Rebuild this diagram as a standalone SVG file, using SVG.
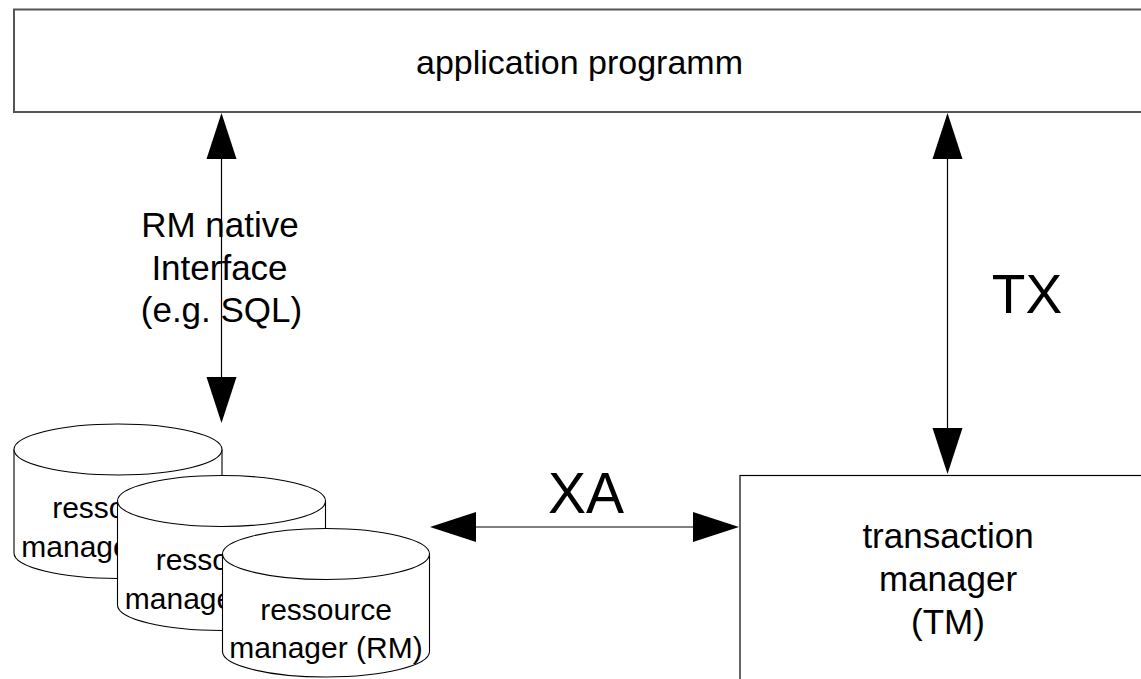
<svg xmlns="http://www.w3.org/2000/svg" width="1141" height="679" viewBox="0 0 1141 679">
  <style>
    .box { fill: #ffffff; stroke: #000000; stroke-width: 1.2; }
    .appbox { fill: #ffffff; stroke: #555555; stroke-width: 2; }
    .cyl { fill: #ffffff; stroke: #000000; stroke-width: 1.1; }
    .t { font-family: "Liberation Sans", Arial, sans-serif; fill: #000000; text-anchor: middle; }
    .conn { stroke: #000000; stroke-width: 1.2; fill: none; }
    .head { fill: #000000; stroke: none; }
  </style>
  <rect width="1141" height="679" fill="#ffffff"/>

  <g id="application-programm">
    <rect class="appbox" x="14" y="9.5" width="1140" height="102.5"/>
    <text class="t" x="579.5" y="73.5" font-size="34">application programm</text>
  </g>

  <g id="transaction-manager">
    <rect class="box" x="740" y="475.5" width="420" height="220"/>
    <text class="t" x="948" y="548" font-size="35">transaction</text>
    <text class="t" x="948" y="591" font-size="35">manager</text>
    <text class="t" x="948" y="634" font-size="35">(TM)</text>
  </g>

  <g id="rm1">
    <path class="cyl" d="M14,449.5 L14,553 A104,25.5 0 0 0 222,553 L222,449.5"/>
    <ellipse class="cyl" cx="118" cy="449.5" rx="104" ry="25.5"/>
    <text class="t" x="118" y="518" font-size="30">ressource</text>
    <text class="t" x="118" y="557" font-size="30">manager (RM)</text>
  </g>

  <g id="rm2">
    <path class="cyl" d="M117.5,501 L117.5,605 A104,25.5 0 0 0 325.5,605 L325.5,501"/>
    <ellipse class="cyl" cx="221.5" cy="501" rx="104" ry="25.5"/>
    <text class="t" x="221.5" y="570" font-size="30">ressource</text>
    <text class="t" x="221.5" y="608.5" font-size="30">manager (RM)</text>
  </g>

  <g id="rm3">
    <path class="cyl" d="M222.5,554 L222.5,651.5 A103.5,25.5 0 0 0 429.5,651.5 L429.5,554"/>
    <ellipse class="cyl" cx="326" cy="554" rx="103.5" ry="25.5"/>
    <text class="t" x="326" y="620" font-size="30">ressource</text>
    <text class="t" x="326" y="658" font-size="30">manager (RM)</text>
  </g>

  <g id="connectors">
    <!-- RM native interface -->
    <line class="conn" x1="221.5" y1="150" x2="221.5" y2="385"/>
    <polygon class="head" points="221.5,113 206.5,159 236.5,159"/>
    <polygon class="head" points="221.5,423 206.5,377 236.5,377"/>
    <!-- TX -->
    <line class="conn" x1="947.5" y1="150" x2="947.5" y2="435"/>
    <polygon class="head" points="947.5,113 932.5,159 962.5,159"/>
    <polygon class="head" points="947.5,474 932.5,428 962.5,428"/>
    <!-- XA -->
    <line class="conn" x1="470" y1="527" x2="700" y2="527"/>
    <polygon class="head" points="430,527 476,512 476,542"/>
    <polygon class="head" points="739,527 693,512 693,542"/>
  </g>

  <g id="labels">
    <text class="t" x="220" y="237" font-size="35">RM native</text>
    <text class="t" x="219.5" y="280" font-size="35">Interface</text>
    <text class="t" x="221.5" y="322" font-size="35">(e.g. SQL)</text>
    <text class="t" x="1027" y="313" font-size="55">TX</text>
    <text class="t" x="586" y="513" font-size="57">XA</text>
  </g>
</svg>
